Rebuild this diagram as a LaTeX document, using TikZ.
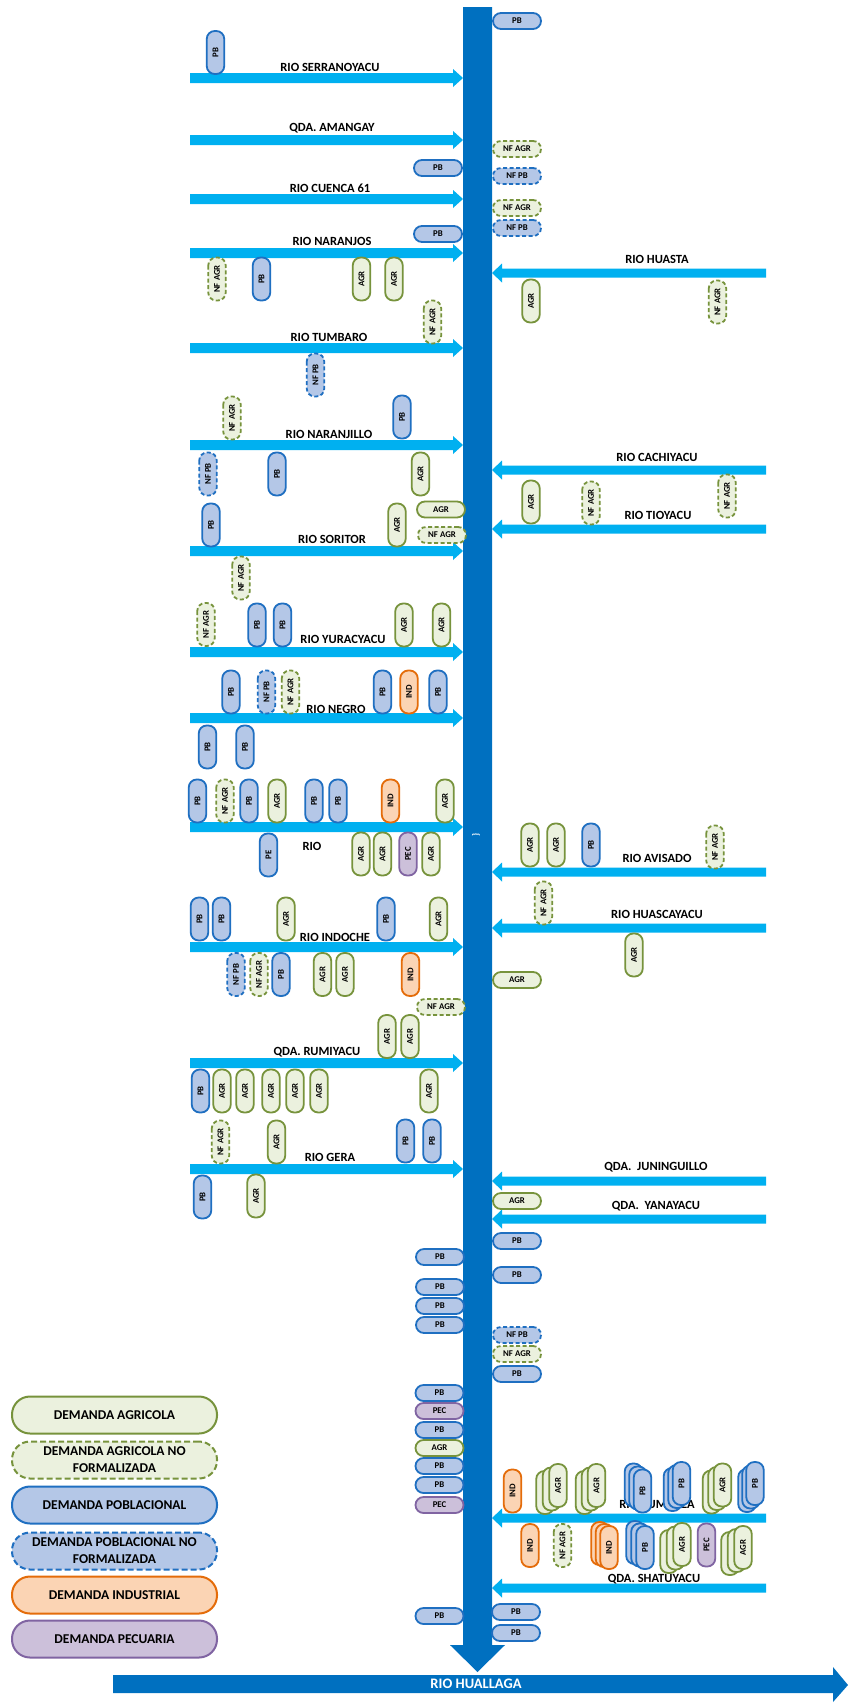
\documentclass[tikz,border=0pt]{standalone}
\usepackage{fontspec}
\setmainfont{Carlito}
\usepackage{tikz}
\usetikzlibrary{arrows.meta, positioning}
\definecolor{trunkblue}{HTML}{0070C0}
\definecolor{tribblue}{HTML}{00B0F0}
\definecolor{pbdraw}{HTML}{1F6FC1}
\definecolor{pbfill}{HTML}{B4C7E7}
\definecolor{agrdraw}{HTML}{77933C}
\definecolor{agrfill}{HTML}{EBF1DE}
\definecolor{inddraw}{HTML}{E46C0A}
\definecolor{indfill}{HTML}{FBD4B4}
\definecolor{pecdraw}{HTML}{8064A2}
\definecolor{pecfill}{HTML}{CCC0DA}

\begin{document}
\begin{tikzpicture}[x=1pt, y=-1pt,
  dem/.style={line width=1.8pt, rounded corners=8pt, inner sep=0pt, text=black,
    font=\fontsize{8.8}{9}\selectfont\bfseries},
  hbox/.style={dem, minimum width=48pt, minimum height=16pt},
  vbox/.style={dem, rotate=90, minimum width=43pt, minimum height=17.5pt},
  pb/.style={draw=pbdraw, fill=pbfill},
  nfpb/.style={pb, dash pattern=on 4pt off 2.5pt},
  agr/.style={draw=agrdraw, fill=agrfill},
  nfagr/.style={agr, dash pattern=on 4pt off 2.5pt},
  ind/.style={draw=inddraw, fill=indfill},
  pec/.style={draw=pecdraw, fill=pecfill},
  trib/.style={font=\fontsize{12.5}{14}\selectfont\bfseries},
  leg/.style={line width=2pt, rounded corners=18pt, minimum width=205pt,
    minimum height=37pt, align=center, inner sep=0pt,
    font=\fontsize{13.5}{17}\selectfont\bfseries}]

\fill[white] (0,0) rectangle (849,1708);
\useasboundingbox (0,0) rectangle (849,1708);

% ---- tributaries, left bank --------------------------------------------
\foreach \y/\name/\lx/\ly [count=\k] in {78/RIO SERRANOYACU/330/67,
    140/QDA. AMANGAY/332/128, 199/RIO CUENCA 61/330/188,
    253/RIO NARANJOS/332/241, 348/RIO TUMBARO/329/337,
    445/RIO NARANJILLO/329/434, 551/RIO SORITOR/332/539,
    652/RIO YURACYACU/343/639, 718/RIO NEGRO/336/709, 827/RIO/312/846,
    947/RIO INDOCHE/335/937, 1063/QDA. RUMIYACU/317/1052,
    1169/RIO GERA/330/1157} {
  \fill[tribblue] (190,\y-5) -- (453,\y-5) -- (453,\y-9) -- (463,\y)
    -- (453,\y+9) -- (453,\y+5) -- (190,\y+5) -- cycle;
  \node[trib] (left\k) at (\lx,\ly) {\name};
}

% ---- tributaries, right bank -------------------------------------------
\foreach \y/\name/\lx/\ly [count=\k] in {273/RIO HUASTA/657/259,
    470/RIO CACHIYACU/657/457, 529/RIO TIOYACU/658/515,
    872/RIO AVISADO/657/858, 928/RIO HUASCAYACU/657/914,
    1181/QDA.~~JUNINGUILLO/656/1167, 1219/QDA.~~YANAYACU/656/1206,
    1518/RIO CUMBAZA/657/1504, 1588/QDA. SHATUYACU/654/1579} {
  \fill[tribblue] (766,\y-4.5) -- (502,\y-4.5) -- (502,\y-9.5) -- (492,\y)
    -- (502,\y+9.5) -- (502,\y+4.5) -- (766,\y+4.5) -- cycle;
  \node[trib] (right\k) at (\lx,\ly) {\name};
}

% ---- main river ---------------------------------------------------------
\fill[trunkblue] (463,7) -- (492,7) -- (492,1645) -- (505,1645)
  -- (477.5,1672) -- (450,1645) -- (463,1645) -- cycle;
\node[white, rotate=90, font=\fontsize{9}{9}\selectfont\bfseries] (mark) at (476,835) {\}};
\fill[trunkblue] (113,1675) -- (833,1675) -- (833,1667) -- (848,1685)
  -- (833,1702) -- (833,1693) -- (113,1693) -- cycle;
\node[white, font=\fontsize{14.5}{16}\selectfont\bfseries] (huallaga) at (476,1684)
  {RIO HUALLAGA};

% ---- demands along the tributaries (vertical) ---------------------------
\foreach \x/\y [count=\k] in {215.5/52.5, 261.5/279, 402/417, 277/474, 211/525,
    257/625, 282.5/625, 231/692, 382.5/692, 438/692, 207.5/747, 245/747,
    197.5/801, 249/801, 314/801, 338/801, 591/845, 199.5/919, 221.5/919,
    386/919, 281/974.5, 200.5/1091, 405.5/1141, 432/1141, 202.5/1197}
  \node[vbox, pb] (pbv\k) at (\x,\y) {PB};
\node[vbox, pb] (pbe) at (268.5,855) {PE};
\foreach \x/\y [count=\k] in {315.5/375, 208/474, 266.5/692, 236/974.5}
  \node[vbox, nfpb] (nfpbv\k) at (\x,\y) {NF PB};
\foreach \x/\y [count=\k] in {361.5/279, 394/279, 531/301, 420.5/474, 397/525,
    531/502, 404/625, 441.5/625, 277/801, 445/801, 361/854, 382.5/854, 431/854,
    530/845, 556/845, 286/919, 438.5/919, 634/955, 322.5/974.5, 345/974.5,
    387/1036.5, 410/1036.5, 222/1091, 245/1091, 271/1091, 295/1091, 319/1091,
    429/1091, 276.5/1142, 256/1196}
  \node[vbox, agr] (agrv\k) at (\x,\y) {AGR};
\foreach \x/\y [count=\k] in {217/279, 717.5/302, 432.5/322, 232/418, 591/503,
    727/496, 241/578, 206/624.5, 290.5/692, 225/801, 715/847, 543.5/903,
    259/974.5, 220.5/1142, 562.5/1545.5}
  \node[vbox, nfagr] (nfagrv\k) at (\x,\y) {NF AGR};
\foreach \x/\y [count=\k] in {409/692, 390.5/801, 410.5/974.5, 512.5/1491, 530/1545.5}
  \node[vbox, ind] (indv\k) at (\x,\y) {IND};
\foreach \x/\y [count=\k] in {408/854, 706.5/1545}
  \node[vbox, pec] (pecv\k) at (\x,\y) {PEC};

% ---- stacked demands on the Cumbaza -------------------------------------
\foreach \x/\y/\dx/\dy [count=\k] in {558/1485.5/6.5/3.5, 596.5/1485.5/6/3.5,
    722.5/1485/5.5/3.5, 682/1544.5/6.5/3.5, 743/1547.5/6.5/3} {
  \node[vbox, agr] (agrs\k-c) at ({\x-2*\dx},{\y+2*\dy}) {};
  \node[vbox, agr] (agrs\k-b) at ({\x-\dx},{\y+\dy}) {};
  \node[vbox, agr] (agrs\k-a) at (\x,\y) {AGR};
}
\foreach \x/\y/\dx/\dy [count=\k] in {642.5/1491/4.5/-3, 681.5/1483.5/4.5/3,
    755/1483.5/4/3.5, 645/1547.5/5/-2.5} {
  \node[vbox, pb] (pbs\k-c) at ({\x-2*\dx},{\y+2*(\dy)}) {};
  \node[vbox, pb] (pbs\k-b) at ({\x-\dx},{\y+(\dy)}) {};
  \node[vbox, pb] (pbs\k-a) at (\x,\y) {PB};
}
\node[vbox, ind] (inds-c) at (600,1543.5) {};
\node[vbox, ind] (inds-b) at (604.5,1545.5) {};
\node[vbox, ind] (inds-a) at (609,1547.5) {IND};

% ---- demands on the main river (horizontal) -----------------------------
\foreach \x/\y [count=\k] in {517/21, 517/1241, 517/1275, 517/1374, 516/1612,
    516/1633, 438/168, 438/234, 440/1257, 440/1287, 440/1306, 440/1325,
    439.5/1393, 439.5/1430, 439.5/1466, 439.5/1485, 439.5/1616}
  \node[hbox, pb] (pbh\k) at (\x,\y) {PB};
\foreach \x/\y [count=\k] in {517/176, 517/228, 517/1335}
  \node[hbox, nfpb] (nfpbh\k) at (\x,\y) {NF PB};
\foreach \x/\y [count=\k] in {517/980, 517/1201, 441/509.5, 439.5/1448}
  \node[hbox, agr] (agrh\k) at (\x,\y) {AGR};
\foreach \x/\y [count=\k] in {517/149, 517/208, 517/1354, 442/535, 441/1007}
  \node[hbox, nfagr] (nfagrh\k) at (\x,\y) {NF AGR};
\foreach \x/\y [count=\k] in {439.5/1411, 439.5/1505}
  \node[hbox, pec] (pech\k) at (\x,\y) {PEC};

% ---- legend -------------------------------------------------------------
\node[leg, agr] (legagr) at (114.5,1415) {DEMANDA AGRICOLA};
\node[leg, nfagr, dash pattern=on 6pt off 3pt] (legnfagr) at (114.5,1460)
  {DEMANDA AGRICOLA NO\\FORMALIZADA};
\node[leg, pb] (legpb) at (114.5,1505) {DEMANDA POBLACIONAL};
\node[leg, nfpb, dash pattern=on 6pt off 3pt] (legnfpb) at (114.5,1551)
  {DEMANDA POBLACIONAL NO\\FORMALIZADA};
\node[leg, ind] (legind) at (114.5,1595) {DEMANDA INDUSTRIAL};
\node[leg, pec] (legpec) at (114.5,1639) {DEMANDA PECUARIA};
\end{tikzpicture}
\end{document}
